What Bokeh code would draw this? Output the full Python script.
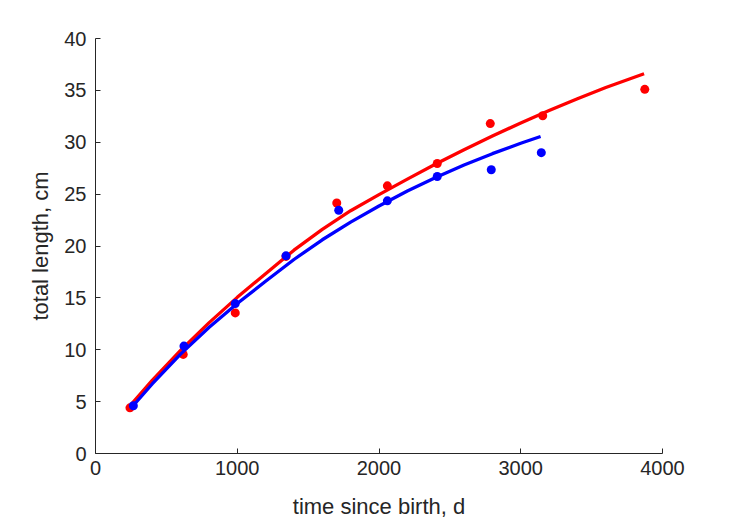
from bokeh.plotting import figure
from bokeh.models import Range1d, FixedTicker
from bokeh.embed import file_html
from bokeh.resources import INLINE

# observed data (time since birth, d ; total length, cm)
red_t = [243, 619, 986, 1344, 1702, 2059, 2411, 2785, 3155, 3875]
red_L = [4.4, 9.55, 13.55, 19.0, 24.15, 25.8, 27.95, 31.8, 32.55, 35.1]
blue_t = [267, 624, 986, 1344, 1716, 2059, 2411, 2792, 3145]
blue_L = [4.6, 10.35, 14.45, 19.05, 23.45, 24.35, 26.7, 27.35, 29.0]

# fitted curves
red_fit_t = [243, 400, 600, 800, 1000, 1200, 1400, 1600, 1800, 2000, 2200, 2400,
             2600, 2800, 3000, 3200, 3400, 3600, 3870]
red_fit_L = [4.6, 7.05, 9.93, 12.59, 15.05, 17.33, 19.6, 21.6, 23.4, 24.95, 26.45, 27.9,
             29.28, 30.6, 31.86, 33.06, 34.2, 35.28, 36.6]
blue_fit_t = [267, 400, 600, 800, 1000, 1200, 1400, 1600, 1800, 2000, 2200, 2400,
              2600, 2800, 3000, 3140]
blue_fit_L = [4.63, 6.7, 9.58, 12.14, 14.46, 16.6, 18.7, 20.6, 22.3, 23.85, 25.3, 26.6,
              27.8, 28.9, 29.9, 30.55]

x_ticks = [0, 1000, 2000, 3000, 4000]
y_ticks = [0, 5, 10, 15, 20, 25, 30, 35, 40]

FONT = "Liberation Sans"
TXT = "#262626"

p = figure(width=729, height=521, output_backend="svg", toolbar_location=None,
           x_range=Range1d(0, 4000), y_range=Range1d(0, 40),
           min_border_left=95, min_border_right=67, min_border_top=38, min_border_bottom=67)
p.outline_line_color = None
p.xgrid.visible = False
p.ygrid.visible = False
p.background_fill_color = "white"
p.border_fill_color = "white"

for ax in (p.xaxis[0], p.yaxis[0]):
    ax.axis_line_color = TXT
    ax.axis_line_width = 1
    ax.major_tick_line_color = TXT
    ax.major_tick_in = 5
    ax.major_tick_out = 0
    ax.minor_tick_line_color = None
    ax.major_label_text_font = FONT
    ax.major_label_text_font_size = "20px"
    ax.major_label_text_color = TXT
    ax.axis_label_text_font = FONT
    ax.axis_label_text_font_size = "22px"
    ax.axis_label_text_font_style = "normal"
    ax.axis_label_text_color = TXT

p.xaxis.ticker = FixedTicker(ticks=x_ticks)
p.yaxis.ticker = FixedTicker(ticks=y_ticks)
p.xaxis.axis_label = "time since birth, d"
p.yaxis.axis_label = "total length, cm"
p.xaxis.major_label_standoff = 7
p.yaxis.major_label_standoff = 9
p.xaxis.axis_label_standoff = 16
p.yaxis.axis_label_standoff = 8

p.line(red_fit_t, red_fit_L, line_color="#FF0000", line_width=3.3, line_join="round")
p.scatter(red_t, red_L, size=9, fill_color="#FF0000", line_color=None)
p.line(blue_fit_t, blue_fit_L, line_color="#0000FF", line_width=3.3, line_join="round")
p.scatter(blue_t, blue_L, size=9, fill_color="#0000FF", line_color=None)

open("out.html", "w").write(file_html(p, INLINE))
